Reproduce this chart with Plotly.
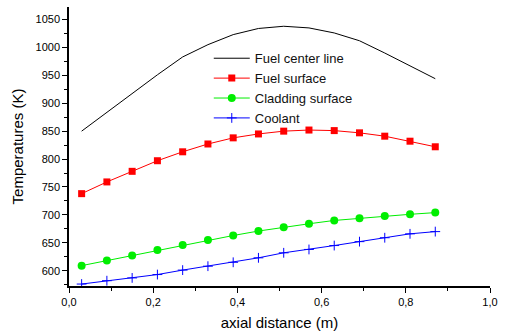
import plotly.graph_objects as go

x_pos = [0.03, 0.09, 0.15, 0.21, 0.27, 0.33, 0.39, 0.45, 0.51, 0.57, 0.63, 0.69, 0.75, 0.81, 0.87]
fuel_center = [850, 884, 918, 951, 983, 1005, 1023, 1034, 1038, 1035, 1026, 1012, 990, 967, 944]
fuel_surface = [738, 759, 778, 797, 813, 827, 838, 845, 850, 852, 851, 847, 841, 832, 822]
cladding_surface = [609, 618, 627, 637, 646, 655, 663, 671, 678, 684, 690, 694, 698, 701, 704]
coolant = [576, 582, 587, 593, 601, 608, 615, 623, 632, 638, 645, 652, 659, 666, 670]

x_tick_vals = [0.0, 0.2, 0.4, 0.6, 0.8, 1.0]
x_tick_labels = ["0,0", "0,2", "0,4", "0,6", "0,8", "1,0"]
y_tick_vals = [600, 650, 700, 750, 800, 850, 900, 950, 1000, 1050]

FONT = "Liberation Sans, Arial, sans-serif"

fig = go.Figure()
fig.add_trace(go.Scatter(x=x_pos, y=fuel_center, mode="lines", name="Fuel center line",
                         line=dict(color="black", width=1)))
fig.add_trace(go.Scatter(x=x_pos, y=fuel_surface, mode="lines+markers", name="Fuel surface",
                         line=dict(color="#ff0000", width=1),
                         marker=dict(symbol="square", size=7, color="#ff0000")))
fig.add_trace(go.Scatter(x=x_pos, y=cladding_surface, mode="lines+markers", name="Cladding surface",
                         line=dict(color="#00ee00", width=1),
                         marker=dict(symbol="circle", size=8, color="#00ee00")))
fig.add_trace(go.Scatter(x=x_pos, y=coolant, mode="lines+markers", name="Coolant",
                         line=dict(color="#0000ff", width=1),
                         marker=dict(symbol="cross-thin", size=7, color="#0000ff",
                                     line=dict(color="#0000ff", width=1))))

fig.update_layout(
    width=505, height=336,
    margin=dict(l=69, r=8, t=7, b=49),
    paper_bgcolor="white", plot_bgcolor="white",
    font=dict(family=FONT, size=11, color="black"),
    showlegend=True,
    legend=dict(x=0.332, y=0.87, xanchor="left", yanchor="top", itemwidth=36,
                bgcolor="rgba(0,0,0,0)", font=dict(family=FONT, size=13, color="#111111"),
                tracegroupgap=0),
    xaxis=dict(range=[0, 1], tickvals=x_tick_vals, ticktext=x_tick_labels,
               showgrid=False, zeroline=False, showline=True, linecolor="black", linewidth=1.5,
               ticks="outside", ticklen=5, tickwidth=1, tickcolor="black",
               minor=dict(dtick=0.1, ticks="outside", ticklen=3, tickcolor="black", showgrid=False),
               title=dict(text="axial distance (m)", font=dict(family=FONT, size=15), standoff=11),
               tickfont=dict(family=FONT, size=11)),
    yaxis=dict(range=[572.5, 1072.5], tickvals=y_tick_vals,
               showgrid=False, zeroline=False, showline=True, linecolor="black", linewidth=1.5,
               ticks="outside", ticklen=5, tickwidth=1, tickcolor="black",
               minor=dict(dtick=25, tick0=0, ticks="outside", ticklen=3, tickcolor="black", showgrid=False),
               title=dict(text="Temperatures (K)", font=dict(family=FONT, size=15), standoff=8),
               tickfont=dict(family=FONT, size=11)),
)

fig.write_html("out.html")
